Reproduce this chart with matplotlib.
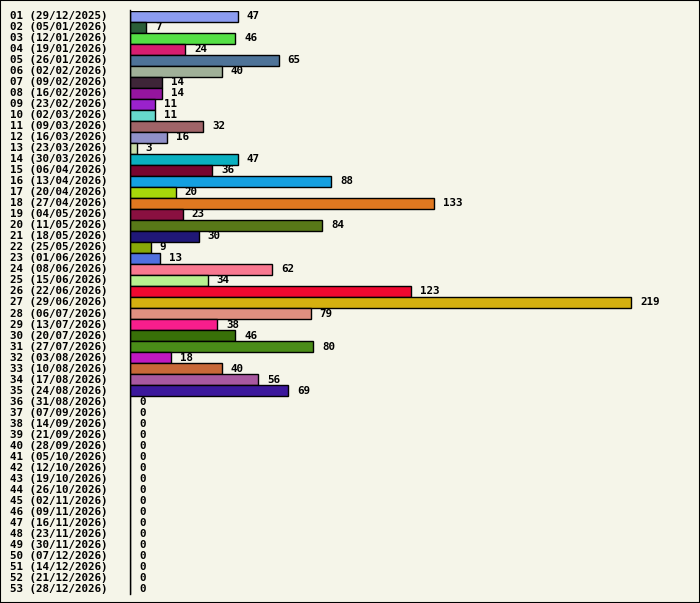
import matplotlib
matplotlib.use("Agg")
import matplotlib.pyplot as plt
from matplotlib.patches import Rectangle

weeks = ["29/12/2025","05/01/2026","12/01/2026","19/01/2026","26/01/2026","02/02/2026","09/02/2026",
"16/02/2026","23/02/2026","02/03/2026","09/03/2026","16/03/2026","23/03/2026","30/03/2026","06/04/2026",
"13/04/2026","20/04/2026","27/04/2026","04/05/2026","11/05/2026","18/05/2026","25/05/2026","01/06/2026",
"08/06/2026","15/06/2026","22/06/2026","29/06/2026","06/07/2026","13/07/2026","20/07/2026","27/07/2026",
"03/08/2026","10/08/2026","17/08/2026","24/08/2026","31/08/2026","07/09/2026","14/09/2026","21/09/2026",
"28/09/2026","05/10/2026","12/10/2026","19/10/2026","26/10/2026","02/11/2026","09/11/2026","16/11/2026",
"23/11/2026","30/11/2026","07/12/2026","14/12/2026","21/12/2026","28/12/2026"]
labels = [f"{i+1:02d} ({w})" for i, w in enumerate(weeks)]
values = [47,7,46,24,65,40,14,14,11,11,32,16,3,47,36,88,20,133,23,84,30,9,13,62,34,123,219,79,38,46,80,
          18,40,56,69] + [0]*18
colors = ["#8c9cf0","#2a5e38","#55e045","#d81e70","#4e7398","#a0b098","#3e2538","#94159e","#9a22cc","#66d8cc",
          "#a06468","#9090c8","#c8dca8","#0ab0c0","#780530","#14a0e0","#a8d80a","#e07820","#8a1040","#587818",
          "#201878","#88a808","#5070e0","#f87890","#b8f090","#f00830","#d4b010","#e09080","#f81e8c","#387008",
          "#4a8c18","#c018c0","#c86838","#a858a0","#3c189c"] + ["#ffffff"]*18

bg = "#f5f5e9"
fig = plt.figure(figsize=(7, 6.03), dpi=100, facecolor=bg)
fig.patches.append(Rectangle((0, 0), 1, 1, transform=fig.transFigure, fill=False,
                             edgecolor="black", linewidth=1.5))
W, H = 700, 603
ax = fig.add_axes([130/W, (H-594.5)/H, 560/W, 584/H])
ax.set_facecolor(bg)
xmax = 219 * 560 / 501
ax.set_xlim(0, xmax)
ax.set_ylim(len(values) - 0.5, -0.5)
y = list(range(len(values)))
ax.barh(y, values, height=1.0, color=colors, edgecolor="black", linewidth=1)
font = dict(family="DejaVu Sans Mono", fontweight="bold", fontsize=7.8)
for i, v in enumerate(values):
    ax.text(v + 9*xmax/560, i, str(v), va="center", ha="left", **font)
    ax.text(-120*xmax/560, i, labels[i], va="center", ha="left", **font)
for s in ["top", "right", "bottom"]:
    ax.spines[s].set_visible(False)
ax.spines["left"].set_linewidth(1)
ax.set_xticks([]); ax.set_yticks([])
fig.savefig("out.png", dpi=100, facecolor=bg)
